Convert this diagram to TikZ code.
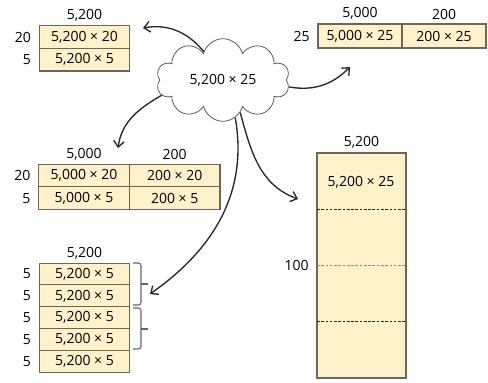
\documentclass[tikz,border=0pt]{standalone}
\usepackage{fontspec}
\setmainfont{Open Sans}
\usetikzlibrary{arrows.meta,positioning,shapes.symbols,calc}

\definecolor{cellfill}{HTML}{FFF1C9}
\definecolor{celledge}{HTML}{6B655A}
\newcommand\numfont{\fontsize{10.5}{12}\selectfont}

\tikzset{
  cell/.style={draw=celledge, fill=cellfill, line width=0.8pt, outer sep=0pt,
    inner sep=0pt, minimum width=68pt, minimum height=17pt, font=\numfont},
  widecell/.style={cell, minimum width=63pt, minimum height=18pt},
  slimcell/.style={cell, minimum height=16.4pt},
  lbl/.style={font=\numfont, inner sep=1pt},
  flow/.style={-{Straight Barb[length=4.5pt,width=8pt]}, line width=1pt, black!85},
  brace/.style={line width=0.8pt, celledge, rounded corners=2pt},
}

\begin{document}
\begin{tikzpicture}[x=0.75pt, y=-0.75pt]
  \useasboundingbox (0,0) rectangle (488,382);

  % Source cloud
  \node[cloud, draw=black!65, line width=0.6pt, cloud puffs=10, aspect=1.6,
    minimum width=100pt, minimum height=62pt, inner sep=0pt, font=\numfont]
    (src) at (223,80) {5,200 × 25};

  % Two rows
  \node[cell] (tl1) at (84.5,37) {5,200 × 20};
  \node[cell, below=0pt of tl1] (tl2) {5,200 × 5};
  \node[lbl, above=2pt of tl1] {5,200};
  \node[lbl, left=5pt of tl1] {20};
  \node[lbl, left=5pt of tl2] {5};

  % Two columns
  \node[widecell] (tr1) at (360,36) {5,000 × 25};
  \node[widecell, right=0pt of tr1] (tr2) {200 × 25};
  \node[lbl, above=2pt of tr1] {5,000};
  \node[lbl, above=2pt of tr2] {200};
  \node[lbl, left=5pt of tr1] {25};

  % Two by two
  \node[cell] (m1) at (84,175.5) {5,000 × 20};
  \node[cell, right=0pt of m1] (m2) {200 × 20};
  \node[cell, below=0pt of m1] (m3) {5,000 × 5};
  \node[cell, below=0pt of m2] (m4) {200 × 5};
  \node[lbl, above=2pt of m1] {5,000};
  \node[lbl, above=2pt of m2] {200};
  \node[lbl, left=5pt of m1] {20};
  \node[lbl, left=5pt of m3] {5};

  % Five rows of 5
  \node[slimcell] (b1) at (84.5,274) {5,200 × 5};
  \foreach \i [remember=\i as \j (initially 1)] in {2,...,5}
    \node[slimcell, below=0pt of b\j] (b\i) {5,200 × 5};
  \foreach \i in {1,...,5}
    \node[lbl, left=5pt of b\i] {5};
  \node[lbl, above=2pt of b1] {5,200};

  % Brackets
  \draw[brace] (133,263) -- (141,263) -- (141,305) -- (133,305);
  \draw[brace] (141,284) -- (148,284);
  \draw[brace] (133,308) -- (141,308) -- (141,349) -- (133,349);
  \draw[brace] (141,329) -- (148,329);

  % Tall block
  \node[cell, minimum width=66.75pt, minimum height=168.75pt] (big) at (361.5,265.5) {};
  \foreach \f/\c in {0.25/black!85, 0.5/black!45, 0.75/black!85}
    \draw[dashed, \c, line width=0.6pt, dash pattern=on 2pt off 1.2pt]
      ($(big.north west)!\f!(big.south west)$) -- ($(big.north east)!\f!(big.south east)$);
  \node[lbl] (bigtxt) at (361,182) {5,200 × 25};
  \node[lbl, above=2pt of big] {5,200};
  \node[lbl, left=5pt of big] {100};

  % Arrow tips
  \coordinate (tipA) at (143,28);
  \coordinate (tipB) at (350,67);
  \coordinate (tipC) at (118,148);
  \coordinate (tipD) at (150,294);
  \coordinate (tipE) at (298,199);

  % Arrows
  \draw[flow] (src.124) to[out=130, in=10] (tipA);
  \draw[flow] (src.-6) to[out=-10, in=225] (tipB);
  \draw[flow] (src.194) to[out=210, in=82] (tipC);
  \draw[flow] (src.-72) to[out=-80, in=35] (tipD);
  \draw[flow] (src.-62) to[out=-75, in=160] (tipE);
\end{tikzpicture}
\end{document}
